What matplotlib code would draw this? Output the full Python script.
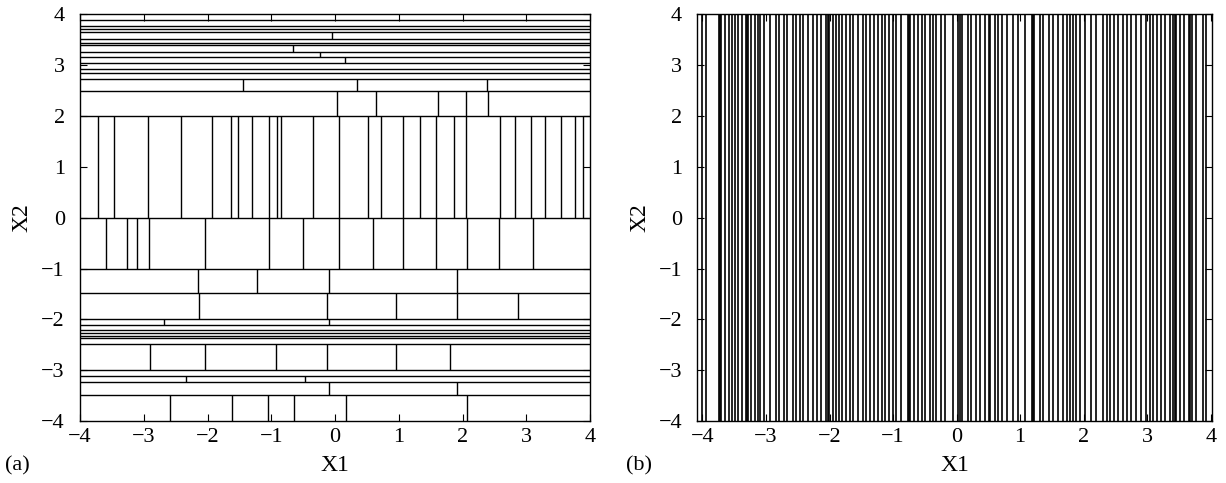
import matplotlib.pyplot as plt
import matplotlib as mpl

mpl.rcParams.update({
    'font.family': ['Liberation Serif', 'DejaVu Serif'],
    'font.size': 16,
    'axes.linewidth': 1.0,
    'xtick.direction': 'in',
    'ytick.direction': 'in',
    'xtick.top': True,
    'ytick.right': True,
    'xtick.major.size': 5,
    'ytick.major.size': 5,
    'axes.unicode_minus': True,
})

ticks = [-4, -3, -2, -1, 0, 1, 2, 3, 4]

# Panel (a): full-width horizontal splits on X2
a_hlines = [3.89, 3.78, 3.71, 3.65, 3.51, 3.43, 3.39, 3.27, 3.16, 3.04,
            2.92, 2.85, 2.74, 2.50, 2.0, 0.0, -1.0, -1.49, -1.99, -2.11,
            -2.21, -2.27, -2.32, -2.37, -2.48, -3.0, -3.12, -3.24, -3.49]

# Panel (a): bands (X2 low, X2 high) and the X1 splits inside each band
a_band_lo = [3.51, 3.27, 3.16, 3.04, 2.50, 2.0, 0.0, -1.0, -1.49, -1.99,
             -2.11, -3.0, -3.24, -3.49, -4.0]
a_band_hi = [3.65, 3.39, 3.27, 3.16, 2.74, 2.50, 2.0, 0.0, -1.0, -1.49,
             -1.99, -2.48, -3.12, -3.24, -3.49]
a_band_x = [
    [-0.05],
    [-0.66],
    [-0.24],
    [0.16],
    [-1.45, 0.35, 2.38],
    [0.03, 0.64, 1.62, 2.05, 2.40],
    [-3.72, -3.46, -2.94, -2.41, -1.93, -1.64, -1.53, -1.30, -1.04, -0.91,
     -0.85, -0.35, 0.06, 0.51, 0.72, 1.06, 1.33, 1.59, 1.87, 2.05, 2.59,
     2.82, 3.07, 3.29, 3.55, 3.77, 3.89],
    [-3.60, -3.26, -3.10, -2.92, -2.04, -1.04, -0.51, 0.06, 0.59, 1.06,
     1.58, 2.07, 2.57, 3.10],
    [-2.15, -1.22, -0.10, 1.91],
    [-2.14, -0.12, 0.95, 1.91, 2.87],
    [-2.68, -0.10],
    [-2.90, -2.04, -0.92, -0.13, 0.95, 1.81],
    [-2.34, -0.47],
    [-0.09, 1.92],
    [-2.59, -1.61, -1.05, -0.64, 0.17, 2.07],
]

# Panel (b): vertical splits on X1 only
b_vlines = [
    -4.00, -3.94, -3.74, -3.72, -3.70, -3.65, -3.58, -3.53, -3.49, -3.44,
    -3.38, -3.32, -3.30, -3.28, -3.23, -3.18, -3.13, -3.09, -3.03, -2.94,
    -2.85, -2.80, -2.71, -2.67, -2.57, -2.53, -2.47, -2.42, -2.34, -2.26,
    -2.20, -2.14, -2.05, -2.03, -2.01, -1.95, -1.90, -1.85, -1.80, -1.74,
    -1.68, -1.63, -1.55, -1.48, -1.43, -1.37, -1.30, -1.24, -1.18, -1.12,
    -1.07, -1.00, -0.95, -0.88, -0.77, -0.75, -0.73, -0.67, -0.61, -0.55,
    -0.49, -0.42, -0.37, -0.32, -0.25, -0.19, -0.06, 0.02, 0.06, 0.08,
    0.18, 0.22, 0.31, 0.37, 0.44, 0.51, 0.53, 0.60, 0.65, 0.71,
    0.79, 0.89, 0.97, 1.07, 1.18, 1.20, 1.22, 1.31, 1.36, 1.46,
    1.52, 1.60, 1.67, 1.74, 1.79, 1.83, 1.88, 1.95, 2.02, 2.11,
    2.20, 2.30, 2.36, 2.41, 2.47, 2.54, 2.62, 2.68, 2.74, 2.83,
    2.91, 2.98, 3.04, 3.09, 3.16, 3.22, 3.28, 3.36, 3.41, 3.43,
    3.45, 3.51, 3.58, 3.66, 3.68, 3.70, 3.77, 3.88, 3.93,
]

fig = plt.figure(figsize=(12.26, 4.83), dpi=100)
ax_a = fig.add_axes([0.0653, 0.1284, 0.4160, 0.8416])
ax_b = fig.add_axes([0.5688, 0.1284, 0.4198, 0.8416])

lw = 1.0
ax_a.hlines(a_hlines, -4, 4, colors='black', linewidth=lw)
for lo, hi, xs in zip(a_band_lo, a_band_hi, a_band_x):
    ax_a.vlines(xs, lo, hi, colors='black', linewidth=lw)
ax_a.set_xlim(-4, 4)
ax_a.set_ylim(-4, 4)

ax_b.vlines(b_vlines, -4, 4, colors='black', linewidth=1.2)
ax_b.set_xlim(-4.08, 4.02)
ax_b.set_ylim(-4, 4)

for ax in (ax_a, ax_b):
    ax.set_xticks(ticks)
    ax.set_yticks(ticks)
    ax.tick_params(axis='x', pad=5, labelsize=16)
    ax.tick_params(axis='y', pad=11, labelsize=16)
    ax.set_xlabel('X1', fontsize=17, labelpad=6)
    ax.set_ylabel('X2', fontsize=17, labelpad=6)

fig.text(0.004, 0.025, '(a)', fontsize=16)
fig.text(0.511, 0.025, '(b)', fontsize=16)

plt.savefig('out.png', dpi=100)
